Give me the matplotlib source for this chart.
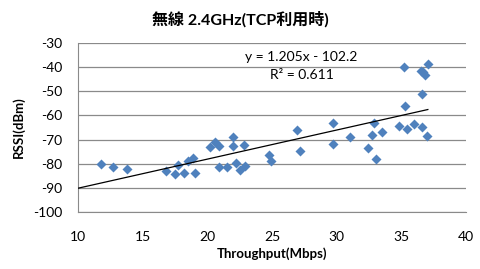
import matplotlib
matplotlib.use('Agg')
import matplotlib.pyplot as plt
import numpy as np

plt.rcParams['font.family'] = ['Lato', 'Noto Sans CJK JP', 'DejaVu Sans']
plt.rcParams['axes.unicode_minus'] = False

# Throughput (Mbps) vs RSSI (dBm)
throughput = [11.8, 12.7, 13.8, 16.8, 17.5, 17.7, 18.2, 18.5, 18.9, 19.05,
              20.2, 20.6, 20.9, 20.9, 21.5, 22.0, 22.0, 22.2, 22.5, 22.8,
              22.9, 24.8, 24.9, 26.9, 27.2, 29.7, 29.7, 31.0, 32.4, 32.7,
              32.9, 33.05, 33.5, 34.8, 35.2, 35.3, 35.4, 36.0, 36.5, 36.6,
              36.6, 36.7, 36.8, 37.0, 37.05]
rssi = [-80.0, -81.5, -82.3, -82.9, -84.1, -80.4, -83.9, -78.8, -77.6, -83.9,
        -73.0, -70.9, -72.7, -81.5, -81.4, -69.1, -72.7, -79.8, -82.6, -72.4,
        -81.1, -76.3, -78.9, -66.2, -74.9, -63.3, -72.0, -68.8, -73.4, -68.0,
        -63.3, -78.1, -66.9, -64.4, -39.8, -56.1, -65.6, -63.7, -41.5, -51.1,
        -64.9, -42.1, -43.1, -68.5, -38.7]

slope = 1.205
intercept = -102.2
r2 = 0.611

fig = plt.figure(figsize=(4.8, 2.69), dpi=100)
ax = fig.add_axes([78 / 480, 1 - 212 / 269, 388 / 480, 169 / 269])

ax.scatter(throughput, rssi, marker='D', s=26, color='#4F81BD', zorder=3, linewidths=0)

# trendline
xs = np.array([10, max(throughput)])
ax.plot(xs, slope * xs + intercept, color='black', linewidth=0.9, zorder=4)

ax.set_xlim(10, 40)
ax.set_ylim(-100, -30)
ax.set_xticks(range(10, 41, 5))
ax.set_yticks(range(-100, -29, 10))
ax.yaxis.grid(True, color='#8a8a8a', linewidth=0.9)
ax.set_axisbelow(True)
for s in ['top', 'right']:
    ax.spines[s].set_visible(False)
for s in ['left', 'bottom']:
    ax.spines[s].set_color('#8a8a8a')
ax.tick_params(length=0, labelsize=10)
ax.tick_params(axis='x', pad=14)
ax.tick_params(axis='y', pad=11)

ax.set_xlabel('Throughput(Mbps)', fontsize=9.5, fontweight='bold', labelpad=3)
ax.set_ylabel('RSSI(dBm)', fontsize=9.5, fontweight='bold', labelpad=6)
fig.text(0.5, 1 - 19 / 269, '無線 2.4GHz(TCP利用時)', ha='center', va='center',
         fontsize=11.5, fontweight='bold')

ax.text(27.25, -35.8, f'y = {slope}x - {abs(intercept)}', ha='center', va='center', fontsize=10)
ax.text(27.3, -43.3, f'R² = {r2}', ha='center', va='center', fontsize=10)

fig.savefig('out.png', dpi=100)
